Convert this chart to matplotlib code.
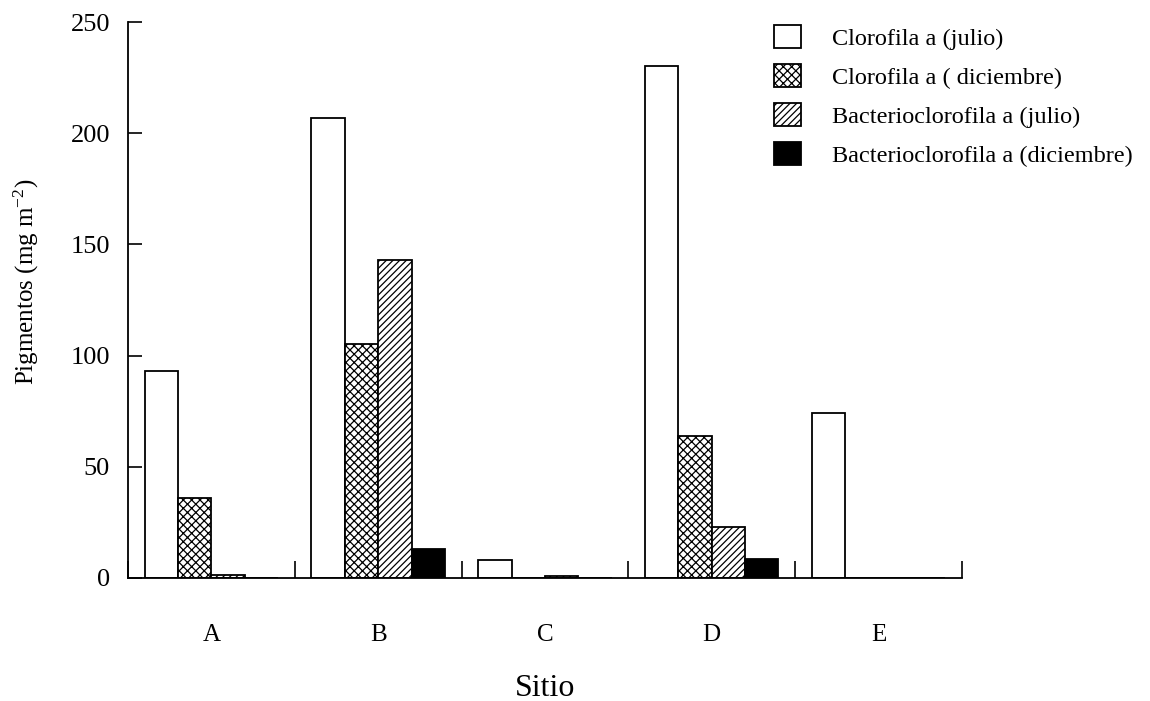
import numpy as np
import matplotlib.pyplot as plt
from matplotlib.patches import Patch

plt.rcParams['font.family'] = ['Liberation Serif', 'DejaVu Serif']
plt.rcParams['mathtext.default'] = 'regular'
plt.rcParams['hatch.linewidth'] = 0.9

# valores
sitios = ['A', 'B', 'C', 'D', 'E']
clorofila_julio = [93, 207, 8, 230, 74]
clorofila_diciembre = [36, 105, 0, 64, 0]
bacterio_julio = [1.5, 143, 0.7, 23, 0]
bacterio_diciembre = [0, 13, 0, 8.5, 0]
etiquetas = ['Clorofila a (julio)', 'Clorofila a ( diciembre)',
             'Bacterioclorofila a (julio)', 'Bacterioclorofila a (diciembre)']

fig = plt.figure(figsize=(11.5, 7.01), dpi=100)
ax = fig.add_axes([0.1113, 0.1755, 0.7252, 0.7931])

x = np.arange(len(sitios))
w = 0.2
series = [clorofila_julio, clorofila_diciembre, bacterio_julio, bacterio_diciembre]
estilos = [dict(facecolor='white', hatch=None),
           dict(facecolor='white', hatch='xxxx'),
           dict(facecolor='white', hatch='/////'),
           dict(facecolor='black', hatch=None)]
for i, (vals, est) in enumerate(zip(series, estilos)):
    ax.bar(x + (i - 1.5) * w, vals, width=w, edgecolor='black', linewidth=1.3, **est)

ax.set_xlim(-0.5, 4.5)
ax.set_ylim(0, 250)
ax.set_yticks([0, 50, 100, 150, 200, 250])
ax.set_xticks(x)
ax.set_xticklabels(sitios)
ax.set_xticks(np.arange(-0.5, 5, 1), minor=True)
ax.tick_params(axis='x', which='major', length=0, pad=33, labelsize=18)
ax.tick_params(axis='x', which='minor', direction='in', length=12, width=1.2)
ax.tick_params(axis='y', direction='in', length=10, width=1.2, pad=13, labelsize=19)

ax.spines['top'].set_visible(False)
ax.spines['right'].set_visible(False)
ax.spines['left'].set_linewidth(1.3)
ax.spines['bottom'].set_linewidth(1.3)

ax.set_xlabel('Sitio', fontsize=23)
ax.xaxis.set_label_coords(0.5, -0.172)
ax.set_ylabel('Pigmentos (mg m$^{-2}$)', fontsize=18)
ax.yaxis.set_label_coords(-0.104, 0.532)

handles = [Patch(edgecolor='black', linewidth=1.3, **est) for est in estilos]
fig.legend(handles, etiquetas, loc='upper left', bbox_to_anchor=(0.654, 0.996),
           frameon=False, fontsize=17.5, handlelength=1.1, handleheight=1.1,
           handletextpad=1.3, labelspacing=0.58)

fig.savefig('out.png', dpi=100)
